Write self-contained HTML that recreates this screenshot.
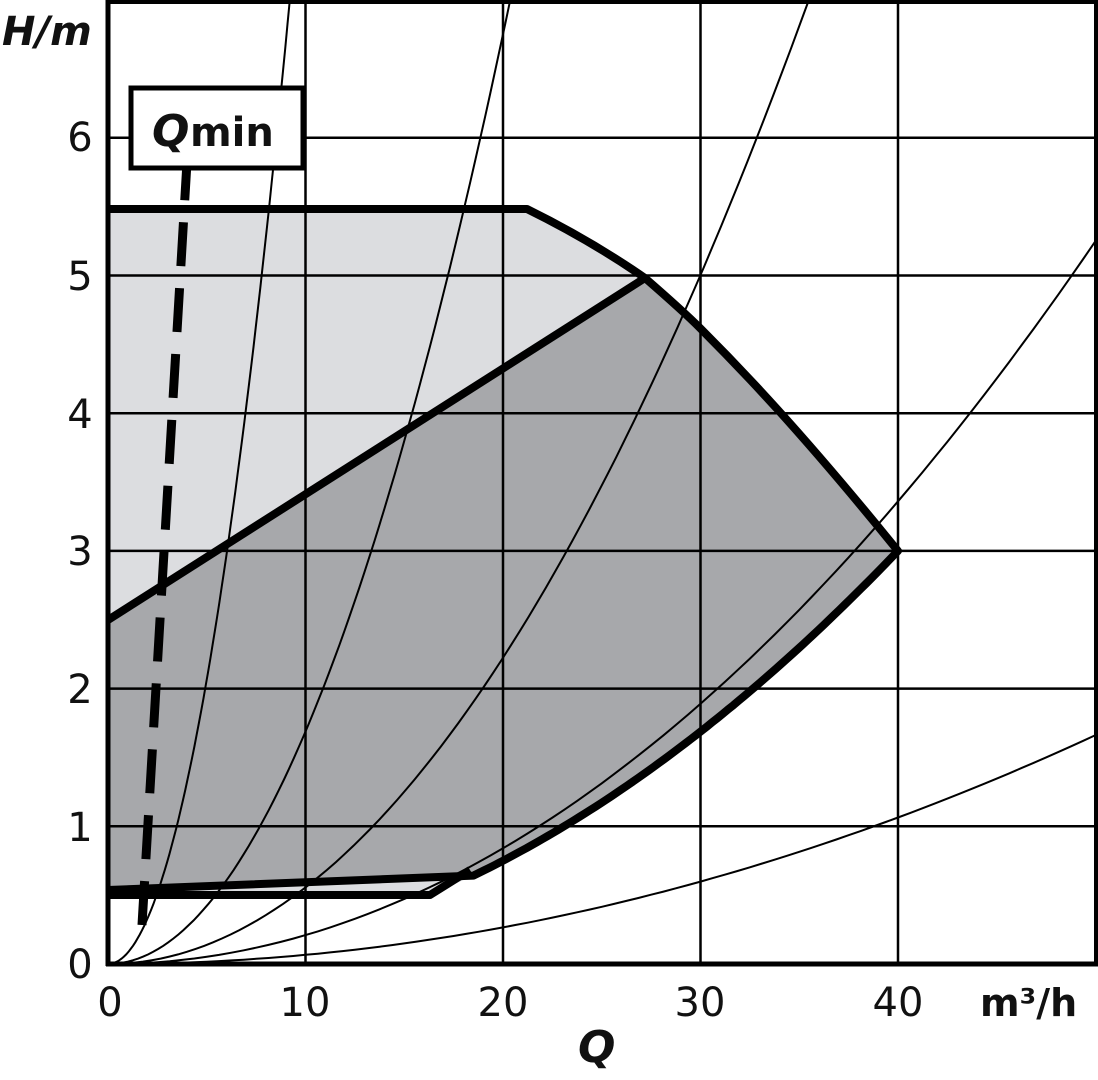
<!DOCTYPE html>
<html><head><meta charset="utf-8"><style>
body{margin:0;background:#fff}
svg{display:block}
text{font-family:"DejaVu Sans","Liberation Sans",sans-serif;fill:#111}
</style></head><body>
<svg id="s" width="1098" height="1080" viewBox="0 0 1098 1080">
<g id="fills"></g>
<g id="grid" stroke="#000" stroke-width="2.5"></g>
<g id="curves" fill="none" stroke="#000" stroke-width="2"></g>
<g id="thick" fill="none" stroke="#000" stroke-width="8" stroke-linejoin="round"></g>
<line x1="142" y1="925" x2="188" y2="145" stroke="#000" stroke-width="9" stroke-dasharray="44,22"/>
<rect x="131" y="88" width="172" height="80" fill="#fff" stroke="#000" stroke-width="5"/>
<text x="152" y="146" font-size="44" font-weight="bold" font-style="italic">Q</text>
<text x="190" y="146" font-size="40" font-weight="bold">min</text>
<text x="2" y="45" font-size="40" font-weight="bold" font-style="italic">H/m</text>
<g font-size="40" text-anchor="middle">
<text x="80" y="151">6</text><text x="80" y="290">5</text><text x="80" y="428">4</text>
<text x="80" y="565">3</text><text x="80" y="703">2</text><text x="80" y="841">1</text><text x="80" y="978">0</text>
<text x="110" y="1016">0</text><text x="305" y="1016">10</text><text x="503" y="1016">20</text><text x="700" y="1016">30</text><text x="898" y="1016">40</text>
</g>
<text x="980" y="1016" font-size="38" font-weight="bold">m³/h</text>
<text x="578" y="1062" font-size="44" font-weight="bold" font-style="italic">Q</text>
</svg>
<script>
var X=q=>108+q*19.75, Y=h=>964-h*137.7, NS="http://www.w3.org/2000/svg";
function el(p,t,a){var e=document.createElementNS(NS,t);for(var k in a)e.setAttribute(k,a[k]);document.getElementById(p).appendChild(e);return e;}
function para(k,q0,q1){var s=[];for(var i=0;i<=80;i++){var q=q0+(q1-q0)*i/80,h=k*q*q;s.push(X(q).toFixed(1)+","+Y(h).toFixed(1));}return s;}
var maxc="L645,278 C668,298 690,318 700,328 C740,368 800,430 898,551";
var lowc=para(3/1600,40,18.5).join(" L");
el("fills","path",{d:"M108,209 L527,209 Q590,240 645,278 "+maxc+" L"+lowc+" L430,895 L108,895 Z",fill:"#dcdde0"});
el("fills","path",{d:"M108,620 L645,278 "+maxc+" L"+lowc+" L108,890 Z",fill:"#a7a8ab"});
for(var i=1;i<=6;i++)el("grid","line",{x1:108,x2:1096,y1:Y(i),y2:Y(i)});
for(var i=1;i<=4;i++)el("grid","line",{x1:X(i*10),x2:X(i*10),y1:2,y2:964});
el("grid","rect",{x:108,y:2,width:988,height:962,fill:"none","stroke-width":4});
el("grid","line",{x1:106,x2:1098,y1:964,y2:964,"stroke-width":5});
el("grid","line",{x1:108,x2:108,y1:0,y2:966,"stroke-width":5});
[0.0826,0.01688,0.00556,0.0021,0.000665].forEach(k=>{var qm=Math.min(50,Math.sqrt(7/k));el("curves","path",{d:"M"+para(k,0,qm).join(" L")});});
el("thick","path",{d:"M108,209 L527,209 Q590,240 645,278 "+maxc+" L"+lowc+" L108,890"});
el("thick","path",{d:"M108,620 L645,278"});
el("thick","path",{d:"M108,895 L430,895 L470,870"});
</script>
</body></html>
